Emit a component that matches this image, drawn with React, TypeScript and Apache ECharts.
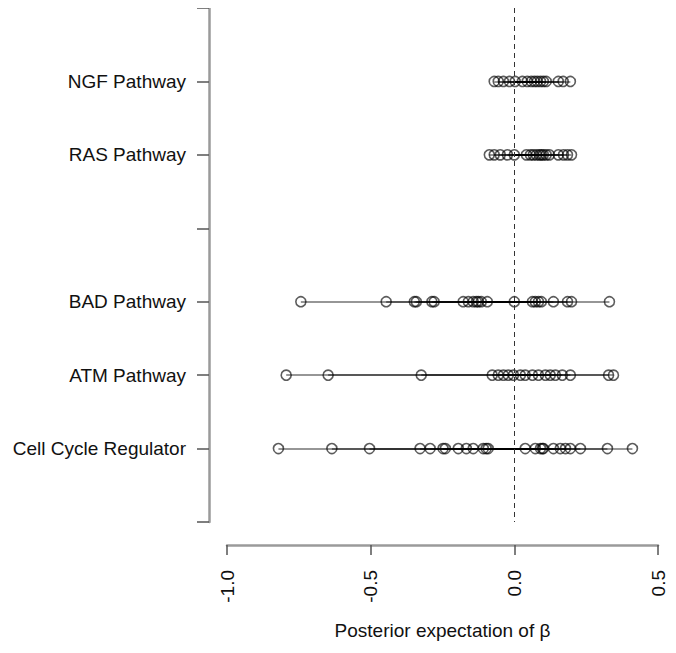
import React, { useEffect, useRef } from "react";
import * as echarts from "echarts";

// Row positions (0 = top). Rows 0, 3 and 7 are empty slots on the axis.
const rowLabels: string[] = ["", "NGF Pathway", "RAS Pathway", "", "BAD Pathway", "ATM Pathway", "Cell Cycle Regulator", ""];

const ngf: number[] = [-0.07, -0.056, -0.038, -0.017, 0.003, 0.028, 0.045, 0.059, 0.07, 0.08, 0.091, 0.101, 0.111, 0.153, 0.17, 0.195];
const ras: number[] = [-0.087, -0.07, -0.049, -0.024, 0, 0.042, 0.056, 0.066, 0.077, 0.087, 0.094, 0.101, 0.111, 0.122, 0.153, 0.171, 0.185, 0.199];
const bad: number[] = [-0.743, -0.446, -0.348, -0.341, -0.287, -0.279, -0.178, -0.16, -0.143, -0.132, -0.125, -0.115, -0.094, 0, 0.063, 0.073, 0.084, 0.094, 0.136, 0.185, 0.199, 0.331];
const atm: number[] = [-0.794, -0.648, -0.324, -0.077, -0.056, -0.038, -0.021, -0.003, 0.021, 0.038, 0.063, 0.084, 0.108, 0.125, 0.143, 0.167, 0.195, 0.328, 0.345];
const cellCycle: number[] = [-0.821, -0.635, -0.504, -0.328, -0.293, -0.248, -0.24, -0.195, -0.167, -0.143, -0.108, -0.098, -0.091, 0.038, 0.073, 0.091, 0.098, 0.101, 0.136, 0.16, 0.178, 0.195, 0.23, 0.324, 0.411];

const rows: { row: number; values: number[] }[] = [
  { row: 1, values: ngf },
  { row: 2, values: ras },
  { row: 4, values: bad },
  { row: 5, values: atm },
  { row: 6, values: cellCycle },
];

const xTicks = { min: -1.0, max: 0.5, interval: 0.5 };
const xTitle = "Posterior expectation of \u03b2";
const FONT = "'Liberation Sans', Arial, Helvetica, sans-serif";

export default function App() {
  const ref = useRef<HTMLDivElement>(null);
  useEffect(() => {
    if (!ref.current) return;
    const chart = echarts.init(ref.current, undefined, { renderer: "svg" });

    const segments: any[] = [];
    const points: number[][] = [];
    rows.forEach((r) => {
      r.values.forEach((v) => {
        segments.push({ coords: [[v, r.row], [0, r.row]] });
        points.push([v, r.row]);
      });
    });

    chart.setOption({
      animation: false,
      backgroundColor: "#ffffff",
      grid: { left: 219, right: 10, top: 0, bottom: 119, containLabel: false },
      xAxis: {
        type: "value",
        position: "bottom",
        min: xTicks.min,
        max: xTicks.max,
        interval: xTicks.interval,
        offset: 23,
        splitLine: { show: false },
        axisLine: { show: true, onZero: false, lineStyle: { color: "#9a9a9a", width: 2.5 } },
        axisTick: { show: true, length: 10, lineStyle: { color: "#555", width: 1.5 } },
        axisLabel: {
          rotate: 90,
          margin: 25,
          fontSize: 19,
          fontFamily: FONT,
          color: "#111",
          formatter: (v: number) => v.toFixed(1),
        },
        name: xTitle,
        nameLocation: "middle",
        nameGap: 76,
        nameTextStyle: { fontSize: 19, fontFamily: FONT, color: "#111" },
      },
      yAxis: {
        type: "value",
        position: "left",
        inverse: true,
        min: 0,
        max: rowLabels.length - 1,
        interval: 1,
        offset: 18,
        splitLine: { show: false },
        axisLine: { show: true, onZero: false, lineStyle: { color: "#9a9a9a", width: 2.5 } },
        axisTick: { show: true, length: 12, lineStyle: { color: "#555", width: 1.5 } },
        axisLabel: {
          margin: 23,
          fontSize: 19,
          fontFamily: FONT,
          color: "#111",
          formatter: (v: number) => rowLabels[Math.round(v)] || "",
        },
      },
      series: [
        {
          type: "lines",
          coordinateSystem: "cartesian2d",
          data: segments,
          silent: true,
          lineStyle: { color: "rgba(0,0,0,0.55)", width: 1.6, opacity: 1 },
          markLine: {
            silent: true,
            symbol: "none",
            label: { show: false },
            lineStyle: { color: "#333", width: 1, type: [5, 4] },
            data: [{ xAxis: 0 }],
          },
        },
        {
          type: "scatter",
          data: points,
          symbol: "circle",
          symbolSize: 10,
          itemStyle: { color: "rgba(255,255,255,0)", borderColor: "rgba(0,0,0,0.8)", borderWidth: 1.6 },
        },
      ],
    });
    return () => chart.dispose();
  }, []);
  return <div ref={ref} style={{ width: 660, height: 637 }} />;
}
